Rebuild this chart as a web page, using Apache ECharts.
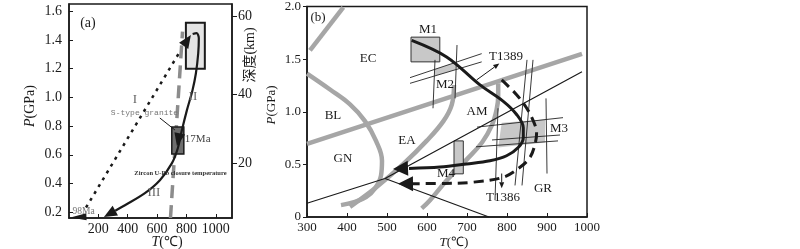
<!DOCTYPE html>
<html>
<head>
<meta charset="utf-8">
<script src="https://cdn.jsdelivr.net/npm/echarts@6/dist/echarts.min.js"></script>
<style>html,body{margin:0;padding:0;background:#fff}#chart{width:800px;height:249px}</style>
</head>
<body>
<div id="chart"></div>
<script>
// ---- panel (a): T (°C) / P (GPa) ----
var aTempTicks = [200, 400, 600, 800, 1000];
var aPresTicks = [0.2, 0.4, 0.6, 0.8, 1.0, 1.2, 1.4, 1.6];
var depthKm = [20, 40, 60];
var depthAtP = [0.543, 1.023, 1.566];

var aBoxPeak = [[796, 1.20], [925, 1.52]];
var aBoxGranite = [[700, 0.605], [782, 0.793]];
var aZircon = [[691, 0.16], [773, 1.457]];
var aPathI = [[116, 0.233], [762, 1.33]];
var aPathII = [[842, 1.441], [869, 1.447], [884, 1.411], [880, 1.307], [864, 1.166], [841, 1.050],
  [803, 0.911], [769, 0.772], [741, 0.646], [701, 0.542], [619, 0.423], [517, 0.333], [381, 0.249], [315, 0.211]];
var aPointer = [[619, 0.856], [721, 0.773]];
var aArrows = [
  [[762, 1.33], [830, 1.434]],
  [[381, 0.249], [238, 0.167]],
  [[755, 0.752], [735, 0.661]]
];
var aArrowLow = [[[150, 0.17], [10, 0.163]]];

// ---- panel (b) ----
var bTopLeft = [[307.5, 1.584], [390.75, 1.991]];
var bEcLine = [[300, 0.695], [987.5, 1.549]];
var bBlGn = [[300, 1.362], [357.5, 1.211], [407.5, 1.070], [445, 0.911], [472.5, 0.723], [487.5, 0.535],
  [485, 0.394], [470, 0.272], [447.5, 0.188], [417.5, 0.141], [385, 0.113]];
var bGnEa = [[407.5, 0.097], [474, 0.285], [541, 0.504], [599, 0.723], [641, 0.911], [662, 1.068], [667.5, 1.255]];
var bAmGr = [[586.75, 0.082], [607.5, 0.16], [649, 0.347], [699, 0.545], [738, 0.71], [762, 0.87],
  [774, 1.02], [778, 1.15], [778, 1.27]];
var bLineA = [[300, 0.131], [495, 0.366], [987.5, 1.380]];
var bLineB = [[495, 0.366], [755, 0.0]];

var bM1 = [[560, 1.474], [632, 1.709]];
var bM4 = [[667.5, 0.41], [690.75, 0.723]];
var bM2 = [[620, 1.404], [672.5, 1.470], [672.5, 1.402], [620, 1.342]];
var bM3 = [[786.75, 0.895], [895, 0.927], [895, 0.707], [778, 0.660]];
var bIsopleths = [
  [[557.5, 1.324], [736.75, 1.552]],
  [[557.5, 1.270], [736.75, 1.474]],
  [[620, 1.493], [615, 1.033]],
  [[675, 1.634], [670, 1.127]],
  [[725, 0.854], [940, 0.944]],
  [[722.5, 0.667], [927.5, 0.723]],
  [[762.5, 0.732], [932.5, 0.779]],
  [[777.5, 1.033], [770, 0.160]],
  [[850, 1.493], [820, 0.300]],
  [[865, 1.493], [837.5, 0.300]],
  [[897.5, 1.127], [900, 0.413]]
];
var bPathSolid = [[561.75, 1.678], [649, 1.521], [732.5, 1.255], [790.75, 1.099], [824, 0.974], [840.75, 0.848],
  [840.75, 0.754], [828, 0.660], [799, 0.582], [757.5, 0.535], [699, 0.504], [632.5, 0.474], [555, 0.461]];
var bPathDashed = [[786.75, 1.302], [824, 1.162], [849, 1.036], [866, 0.911], [874, 0.801], [870, 0.692],
  [857.5, 0.566], [832.5, 0.472], [791, 0.378], [716, 0.331], [645, 0.319], [565, 0.317]];
var bHeads = [
  [[632.5, 0.474], [515, 0.457]],
  [[600, 0.318], [527.5, 0.316]]
];
var bThinArrows = [
  [[724, 1.302], [780.75, 1.458]],
  [[786.75, 0.413], [786.75, 0.272]]
];

// labels: [text, T, P]
var aTag = [['(a)', 129, 1.518]];
var aRoman = [['I', 449, 0.988], ['II', 844, 1.002], ['III', 578, 0.334]];
var bLabels = [['(b)', 327.5, 1.897], ['EC', 452.5, 1.502], ['BL', 365, 0.967], ['GN', 390, 0.554], ['EA', 550, 0.723],
  ['AM', 725, 1.005], ['M1', 602.5, 1.784], ['M2', 645, 1.258], ['M3', 930, 0.836], ['M4', 647.5, 0.413],
  ['GR', 890, 0.272], ['T1389', 797.5, 1.521], ['T1386', 790, 0.188]];

var SERIF = "'Liberation Serif','Times New Roman',serif";
var INK = '#1a1a1a';
var GREY = '#a6a6a6';

function yIdx(g) { return g === 0 ? 0 : 2; }

function lineSeries(data, g, color, width, type, smooth, z) {
  return {
    type: 'line', xAxisIndex: g, yAxisIndex: yIdx(g), data: data,
    symbol: 'none', showSymbol: false, smooth: smooth || 0, silent: true, z: z || 2,
    lineStyle: { color: color, width: width, type: type || 'solid', cap: 'butt' }
  };
}

function rectPts(r) {
  return [[r[0][0], r[0][1]], [r[1][0], r[0][1]], [r[1][0], r[1][1]], [r[0][0], r[1][1]]];
}

function polySeries(polys, g, fill, stroke, lw, z) {
  return {
    type: 'custom', xAxisIndex: g, yAxisIndex: yIdx(g), silent: true, z: z || 1,
    data: polys.map(function (p) { return p[0]; }),
    renderItem: function (params, api) {
      var pts = polys[params.dataIndex].map(function (p) { return api.coord(p); });
      return { type: 'polygon', shape: { points: pts }, style: { fill: fill, stroke: stroke, lineWidth: lw } };
    }
  };
}

function segSeries(segs, g, color, width, z) {
  return {
    type: 'custom', xAxisIndex: g, yAxisIndex: yIdx(g), silent: true, z: z || 3,
    data: segs.map(function (s) { return s[0]; }),
    renderItem: function (params, api) {
      var s = segs[params.dataIndex];
      var a = api.coord(s[0]), b = api.coord(s[1]);
      return { type: 'line', shape: { x1: a[0], y1: a[1], x2: b[0], y2: b[1] }, style: { stroke: color, lineWidth: width } };
    }
  };
}

function arrowSeries(list, g, len, w, lineW, color, z) {
  return {
    type: 'custom', xAxisIndex: g, yAxisIndex: yIdx(g), silent: true, z: z || 6,
    data: list.map(function (s) { return s[1]; }),
    renderItem: function (params, api) {
      var s = list[params.dataIndex];
      var p0 = api.coord(s[0]), p1 = api.coord(s[1]);
      var dx = p1[0] - p0[0], dy = p1[1] - p0[1], d = Math.sqrt(dx * dx + dy * dy) || 1;
      var ux = dx / d, uy = dy / d, bx = p1[0] - ux * len, by = p1[1] - uy * len;
      var nx = -uy * w / 2, ny = ux * w / 2;
      var kids = [];
      if (lineW > 0) {
        kids.push({ type: 'line', shape: { x1: p0[0], y1: p0[1], x2: bx, y2: by }, style: { stroke: color, lineWidth: lineW } });
      }
      kids.push({ type: 'polygon', shape: { points: [[p1[0], p1[1]], [bx + nx, by + ny], [bx - nx, by - ny]] }, style: { fill: color } });
      return { type: 'group', children: kids };
    }
  };
}

function textSeries(list, g, font, color, align) {
  return {
    type: 'custom', xAxisIndex: g, yAxisIndex: yIdx(g), silent: true, z: 8,
    data: list.map(function (t) { return [t[1], t[2]]; }),
    renderItem: function (params, api) {
      var t = list[params.dataIndex];
      var p = api.coord([t[1], t[2]]);
      return { type: 'text', x: p[0], y: p[1], style: { text: t[0], font: font, fill: color, align: align || 'center', verticalAlign: 'middle' } };
    }
  };
}

function plain(v) { return String(v); }

var axisLine = { show: true, lineStyle: { color: INK, width: 1.5 } };
var labelStyle = { color: INK, fontFamily: SERIF, fontSize: 14 };

var chart = echarts.init(document.getElementById('chart'), null, { renderer: 'canvas' });
chart.setOption({
  animation: false,
  backgroundColor: '#fff',
  grid: [
    { left: 69, top: 4, width: 163, height: 214, show: true, borderColor: INK, borderWidth: 1.5 },
    { left: 307, top: 4, width: 280, height: 213, show: true, borderColor: INK, borderWidth: 1.5 }
  ],
  xAxis: [
    {
      gridIndex: 0, type: 'value', min: 0, max: 1110, axisLine: axisLine, splitLine: { show: false },
      axisTick: { inside: true, length: 4, customValues: aTempTicks, lineStyle: { color: INK } },
      axisLabel: Object.assign({ customValues: aTempTicks, margin: 4, formatter: plain }, labelStyle)
    },
    {
      gridIndex: 1, type: 'value', min: 300, max: 1000, interval: 100, axisLine: axisLine, splitLine: { show: false },
      axisTick: { inside: true, length: 4, lineStyle: { color: INK } },
      axisLabel: Object.assign({ margin: 4, formatter: plain }, labelStyle, { fontSize: 13 })
    }
  ],
  yAxis: [
    {
      gridIndex: 0, type: 'value', min: 0.16, max: 1.65, axisLine: axisLine, splitLine: { show: false },
      axisTick: { inside: true, length: 4, customValues: aPresTicks, lineStyle: { color: INK } },
      axisLabel: Object.assign({ customValues: aPresTicks, margin: 7, formatter: function (v) { return v.toFixed(1); } }, labelStyle)
    },
    {
      gridIndex: 0, type: 'value', position: 'right', min: 0.16, max: 1.65, axisLine: axisLine, splitLine: { show: false },
      axisTick: { inside: false, length: 5, customValues: depthAtP, lineStyle: { color: INK } },
      axisLabel: Object.assign({
        customValues: depthAtP, margin: 6,
        formatter: function (v) {
          for (var i = 0; i < depthAtP.length; i++) if (Math.abs(depthAtP[i] - v) < 1e-6) return String(depthKm[i]);
          return '';
        }
      }, labelStyle)
    },
    {
      gridIndex: 1, type: 'value', min: 0, max: 2, interval: 0.5, axisLine: axisLine, splitLine: { show: false },
      axisTick: { inside: false, length: 4, lineStyle: { color: INK } },
      axisLabel: Object.assign({ margin: 6, formatter: function (v) { return v === 0 ? '0' : v.toFixed(1); } }, labelStyle, { fontSize: 13 })
    }
  ],
  graphic: [
    { type: 'text', x: 30, y: 106, rotation: Math.PI / 2,
      style: { text: '{i|P}(GPa)', rich: { i: { fontStyle: 'italic', fontSize: 14, fontFamily: SERIF, fill: INK } }, fontSize: 14, fontFamily: SERIF, fill: INK, align: 'center', verticalAlign: 'middle' } },
    { type: 'text', x: 250, y: 55, rotation: Math.PI / 2,
      style: { text: '深度(km)', fontSize: 14, fontFamily: "'Liberation Serif','Noto Sans CJK SC',serif", fill: INK, align: 'center', verticalAlign: 'middle' } },
    { type: 'text', x: 167, y: 242,
      style: { text: '{i|T}(℃)', rich: { i: { fontStyle: 'italic', fontSize: 14, fontFamily: SERIF, fill: INK } }, fontSize: 14, fontFamily: SERIF, fill: INK, align: 'center', verticalAlign: 'middle' } },
    { type: 'text', x: 272, y: 105, rotation: Math.PI / 2,
      style: { text: '{i|P}(GPa)', rich: { i: { fontStyle: 'italic', fontSize: 13, fontFamily: SERIF, fill: INK } }, fontSize: 13, fontFamily: SERIF, fill: INK, align: 'center', verticalAlign: 'middle' } },
    { type: 'text', x: 454, y: 243,
      style: { text: '{i|T}(℃)', rich: { i: { fontStyle: 'italic', fontSize: 13, fontFamily: SERIF, fill: INK } }, fontSize: 13, fontFamily: SERIF, fill: INK, align: 'center', verticalAlign: 'middle' } }
  ],
  series: [
    // panel (a)
    lineSeries(aZircon, 0, '#8c8c8c', 3.5, [13, 7], 0, 2),
    polySeries([rectPts(aBoxPeak)], 0, '#e4e4e4', INK, 2, 3),
    polySeries([rectPts(aBoxGranite)], 0, '#6e6e6e', INK, 1.5, 3),
    lineSeries(aPathI, 0, INK, 2.5, [3, 5], 0, 4),
    lineSeries(aPathII, 0, INK, 2.2, 'solid', 0.35, 4),
    segSeries([aPointer], 0, INK, 1, 4),
    arrowSeries(aArrows, 0, 13, 11, 0, INK, 6),
    arrowSeries(aArrowLow, 0, 16, 7, 0, INK, 6),
    textSeries(aTag, 0, '14px ' + SERIF, INK),
    textSeries(aRoman, 0, '13px ' + SERIF, '#666'),
    textSeries([['S-type granite', 514, 0.891]], 0, "8px 'Liberation Mono',monospace", '#777'),
    textSeries([['17Ma', 789, 0.710]], 0, '11px ' + SERIF, '#444', 'left'),
    textSeries([['Zircon U-Pb closure temperature', 759, 0.473]], 0, 'bold 6.5px ' + SERIF, '#333'),
    textSeries([['98Ma', 99, 0.208]], 0, '9.5px ' + SERIF, '#777'),
    // panel (b)
    lineSeries(bTopLeft, 1, GREY, 4.5, 'solid', 0, 2),
    lineSeries(bEcLine, 1, GREY, 4.5, 'solid', 0, 2),
    lineSeries(bBlGn, 1, GREY, 4.5, 'solid', 0.4, 2),
    lineSeries(bGnEa, 1, GREY, 4.5, 'solid', 0.4, 2),
    lineSeries(bAmGr, 1, GREY, 4.5, 'solid', 0.4, 2),
    polySeries([rectPts(bM1), rectPts(bM4)], 1, '#c8c8c8', '#333', 1, 3),
    polySeries([bM2, bM3], 1, '#c8c8c8', null, 0, 3),
    lineSeries(bLineA, 1, INK, 1.2, 'solid', 0, 4),
    lineSeries(bLineB, 1, INK, 1.2, 'solid', 0, 4),
    segSeries(bIsopleths, 1, '#222', 0.9, 4),
    lineSeries(bPathSolid, 1, INK, 3, 'solid', 0.35, 5),
    lineSeries(bPathDashed, 1, INK, 3, [10, 6], 0.35, 5),
    arrowSeries(bHeads, 1, 15, 15, 0, INK, 6),
    arrowSeries(bThinArrows, 1, 6, 5, 1, INK, 6),
    textSeries(bLabels, 1, '13px ' + SERIF, INK)
  ]
});
</script>
</body>
</html>
